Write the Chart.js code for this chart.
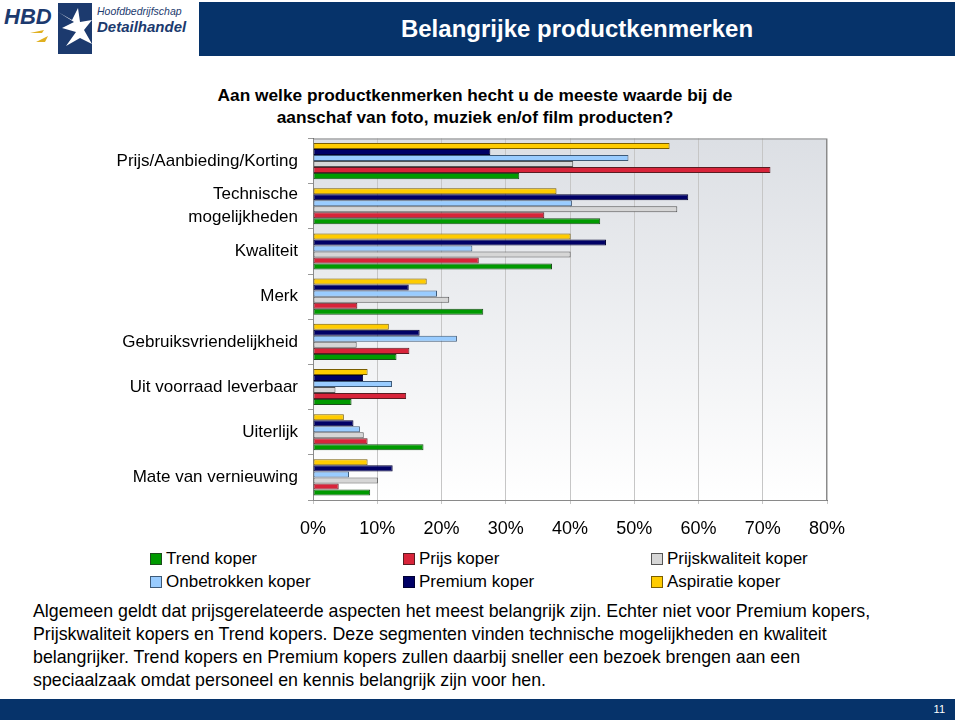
<!DOCTYPE html>
<html lang="nl">
<head>
<meta charset="UTF-8">
<title>Belangrijke productkenmerken</title>
<script src="https://cdn.jsdelivr.net/npm/chart.js@4.4.1/dist/chart.umd.min.js"></script>
<style>
    body {
        margin: 0;
        width: 960px;
        height: 720px;
        position: relative;
        overflow: hidden;
        background: #fff;
        font-family: "Liberation Sans", Arial, sans-serif;
        color: #000;
    }

    .header {
        position: absolute;
        left: 199px;
        top: 2px;
        width: 756px;
        height: 54px;
        background: #06336a;
        color: #fff;
        font-weight: bold;
        font-size: 24px;
        line-height: 54px;
        text-align: center;
    }

    .question {
        position: absolute;
        left: 125px;
        top: 84px;
        width: 700px;
        text-align: center;
        font-weight: bold;
        font-size: 17.3px;
        line-height: 22px;
    }

    .chart-box {
        position: absolute;
        left: 100px;
        top: 117px;
    }

    .legend-item {
        position: absolute;
        font-size: 17px;
        line-height: 20px;
        white-space: nowrap;
    }

    .legend-item span {
        display: inline-block;
        width: 10px;
        height: 10px;
        border: 1px solid #333;
        margin-right: 4px;
        vertical-align: -1px;
    }

    .note {
        position: absolute;
        left: 33px;
        top: 600px;
        width: 920px;
        font-size: 17.8px;
        line-height: 23px;
        white-space: nowrap;
    }

    .footer {
        position: absolute;
        left: 0;
        top: 699px;
        width: 955px;
        height: 21px;
        background: #06336a;
        color: #fff;
        font-size: 11px;
        line-height: 21px;
        text-align: right;
        box-sizing: border-box;
        padding-right: 10px;
    }
</style>
</head>
<body>
    <svg style="position:absolute;left:0;top:0" width="199" height="60">
        <text x="4" y="24" font-family="Liberation Sans, Arial" font-size="22" font-weight="bold" font-style="italic" fill="#1c3a6e">HBD</text>
        <path d="M30 33 L44 30 L42 33 Z M36 42 L48 36 L45 42 Z" fill="#e0b020"/>
        <rect x="58" y="3" width="34" height="51" fill="#1c3a6e"/>
        <path d="M58 12 L74 22 L62 28 L76 32 L66 46 L80 38 L92 44 L84 30 L92 20 L80 22 L78 8 L72 20 Z" fill="#fff"/>
        <text x="97" y="15" font-family="Liberation Sans, Arial" font-size="10.5" font-style="italic" fill="#1c3a6e">Hoofdbedrijfschap</text>
        <text x="97" y="32" font-family="Liberation Sans, Arial" font-size="15" font-weight="bold" font-style="italic" fill="#1c3a6e">Detailhandel</text>
    </svg>

    <div class="header">Belangrijke productkenmerken</div>

    <div class="question">Aan welke productkenmerken hecht u de meeste waarde bij de<br>aanschaf van foto, muziek en/of film producten?</div>

    <div class="chart-box">
        <canvas id="chart" width="760" height="426"></canvas>
    </div>

    <div id="legend"></div>

    <div class="note">Algemeen geldt dat prijsgerelateerde aspecten het meest belangrijk zijn. Echter niet voor Premium kopers,<br>Prijskwaliteit kopers en Trend kopers. Deze segmenten vinden technische mogelijkheden en kwaliteit<br>belangrijker. Trend kopers en Premium kopers zullen daarbij sneller een bezoek brengen aan een<br>speciaalzaak omdat personeel en kennis belangrijk zijn voor hen.</div>

    <div class="footer">11</div>

    <script>
        // Data (percentages)
        const categories = [
            'Prijs/Aanbieding/Korting',
            ['Technische', 'mogelijkheden'],
            'Kwaliteit',
            'Merk',
            'Gebruiksvriendelijkheid',
            'Uit voorraad leverbaar',
            'Uiterlijk',
            'Mate van vernieuwing'
        ];
        const trend = [32.1, 44.7, 37.2, 26.5, 13.0, 6.0, 17.2, 8.9];
        const prijs = [71.2, 36.0, 25.8, 6.9, 15.0, 14.5, 8.5, 4.0];
        const prijskwaliteit = [40.5, 56.7, 40.1, 21.2, 6.8, 3.5, 7.9, 10.1];
        const onbetrokken = [49.1, 40.3, 24.8, 19.3, 22.4, 12.3, 7.3, 5.6];
        const premium = [27.6, 58.4, 45.6, 14.9, 16.6, 7.8, 6.3, 12.4];
        const aspiratie = [55.5, 37.9, 40.1, 17.7, 11.8, 8.5, 4.8, 8.5];
        const xTickLabels = ['0%', '10%', '20%', '30%', '40%', '50%', '60%', '70%', '80%'];

        // Legend order (3 columns, 2 rows)
        const legendSeries = [
            { label: 'Trend koper', color: '#009a00', border: '#1d4d1d' },
            { label: 'Prijs koper', color: '#d8243a', border: '#5a1c22' },
            { label: 'Prijskwaliteit koper', color: '#d6d6d6', border: '#555555' },
            { label: 'Onbetrokken koper', color: '#99ccff', border: '#3e5a78' },
            { label: 'Premium koper', color: '#000066', border: '#000033' },
            { label: 'Aspiratie koper', color: '#ffcc00', border: '#7a5e00' }
        ];
        const seriesData = [trend, prijs, prijskwaliteit, onbetrokken, premium, aspiratie];

        // Bars are stacked top to bottom: Aspiratie ... Trend
        const drawOrder = [5, 4, 3, 2, 1, 0];
        const datasets = drawOrder.map(i => ({
            label: legendSeries[i].label,
            data: seriesData[i],
            backgroundColor: legendSeries[i].color,
            borderColor: legendSeries[i].border,
            borderWidth: 1,
            borderSkipped: false,
            barPercentage: 1.0,
            categoryPercentage: 0.8
        }));

        // Plot background gradient + frame
        const plotBackground = {
            id: 'plotBackground',
            beforeDraw(chart) {
                const { ctx, chartArea: a } = chart;
                const g = ctx.createLinearGradient(0, a.top, 0, a.bottom);
                g.addColorStop(0, '#dcdfe4');
                g.addColorStop(1, '#ffffff');
                ctx.save();
                ctx.fillStyle = g;
                ctx.fillRect(a.left, a.top, a.right - a.left, a.bottom - a.top);
                ctx.restore();
            },
            beforeDatasetsDraw(chart) {
                const { ctx, chartArea: a } = chart;
                ctx.save();
                ctx.strokeStyle = '#8a8a8a';
                ctx.lineWidth = 1;
                ctx.strokeRect(a.left + 0.5, a.top + 0.5, a.right - a.left - 1, a.bottom - a.top);
                ctx.restore();
            }
        };

        const font = { family: '"Liberation Sans", Arial, sans-serif', size: 17 };

        new Chart(document.getElementById('chart'), {
            type: 'bar',
            data: { labels: categories, datasets: datasets },
            plugins: [plotBackground],
            options: {
                indexAxis: 'y',
                responsive: false,
                animation: false,
                layout: { padding: { top: 7, right: 33, bottom: 3, left: 0 } },
                plugins: {
                    legend: { display: false },
                    tooltip: { enabled: false }
                },
                scales: {
                    x: {
                        min: 0,
                        max: 80,
                        afterFit: s => { s.height = 40; },
                        ticks: {
                            stepSize: 10,
                            color: '#000',
                            font: { family: font.family, size: 18 },
                            padding: 14,
                            callback: (v, i) => xTickLabels[i]
                        },
                        grid: { color: '#c6c6c6', tickLength: 4 },
                        border: { color: '#777' }
                    },
                    y: {
                        afterFit: s => { s.width = 213; },
                        ticks: {
                            autoSkip: false,
                            color: '#000',
                            font: Object.assign({ lineHeight: 1.35 }, font),
                            padding: 10
                        },
                        grid: { drawOnChartArea: false, tickLength: 5, color: '#999', offset: true },
                        border: { color: '#555' }
                    }
                }
            }
        });

        // HTML legend, 3 columns
        const legendBox = document.getElementById('legend');
        const colX = [150, 403, 651];
        const rowY = [549, 572];
        legendSeries.forEach((s, i) => {
            const item = document.createElement('div');
            item.className = 'legend-item';
            item.style.left = colX[i % 3] + 'px';
            item.style.top = rowY[Math.floor(i / 3)] + 'px';
            item.innerHTML = `<span style="background:${s.color};border-color:${s.border}"></span>${s.label}`;
            legendBox.appendChild(item);
        });
    </script>
</body>
</html>
